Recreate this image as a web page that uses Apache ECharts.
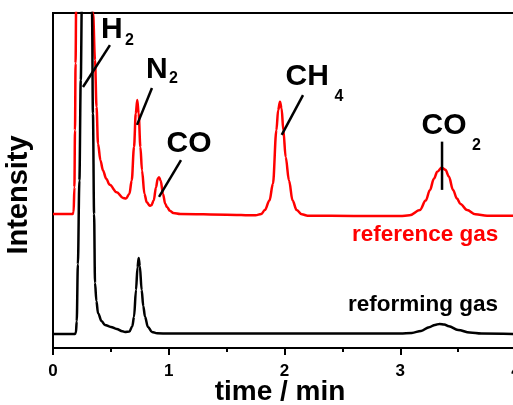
<!DOCTYPE html>
<html>
<head>
<meta charset="utf-8">
<script src="https://cdn.jsdelivr.net/npm/echarts@6/dist/echarts.min.js"></script>
<style>html,body{margin:0;padding:0;background:#fff;}#c{width:513px;height:405px;}</style>
</head>
<body>
<div id="c"></div>
<script>
// reference gas chromatogram (time in min, intensity in a.u.)
const refTime = [0, 0.17, 0.178, 0.185, 0.19, 0.195, 0.2, 0.21, 0.27, 0.33, 0.346, 0.363, 0.376, 0.389, 0.41, 0.432, 0.46, 0.49, 0.55, 0.605, 0.63, 0.66, 0.68, 0.70, 0.715, 0.728, 0.74, 0.755, 0.769, 0.79, 0.81, 0.835, 0.85, 0.87, 0.89, 0.905, 0.916, 0.93, 0.95, 0.97, 0.985, 1.01, 1.04, 1.1, 1.5, 1.75, 1.80, 1.83, 1.87, 1.90, 1.93, 1.945, 1.961, 1.975, 1.99, 2.01, 2.039, 2.07, 2.105, 2.15, 2.2, 2.6, 3.0, 3.08, 3.17, 3.22, 3.257, 3.29, 3.32, 3.358, 3.39, 3.42, 3.456, 3.49, 3.52, 3.577, 3.65, 3.75, 4.0];
const refIntensity = [40, 40, 40.5, 48, 65, 85, 102, 130, 180, 120, 100, 86, 72, 61, 56, 53, 50.5, 48.7, 46.5, 44.8, 44.6, 46, 50, 60, 70, 74, 70, 60, 53, 46, 43.5, 42.5, 42.6, 44, 48, 50.5, 51, 50, 46, 43, 42.1, 41, 40.3, 40, 39.8, 39.6, 40, 41.2, 44, 49, 65, 71, 73.5, 71.5, 65, 57, 50, 44, 41.2, 39.9, 39.5, 39.4, 39.4, 39.6, 41.2, 44, 47.2, 50.5, 52.6, 53.9, 53.2, 51.2, 47.2, 44.6, 43, 41.2, 39.9, 39.5, 39.5];
// reforming gas chromatogram
const refmTime = [0, 0.19, 0.198, 0.205, 0.215, 0.228, 0.24, 0.25, 0.29, 0.33, 0.337, 0.345, 0.355, 0.363, 0.375, 0.389, 0.42, 0.449, 0.5, 0.55, 0.6, 0.622, 0.66, 0.685, 0.70, 0.717, 0.73, 0.74, 0.75, 0.766, 0.78, 0.795, 0.82, 0.855, 0.9, 1.0, 2.0, 3.0, 3.1, 3.18, 3.25, 3.30, 3.34, 3.38, 3.42, 3.5, 3.6, 3.7, 4.0];
const refmIntensity = [4.2, 4.2, 4.6, 8, 25, 50, 80, 105, 170, 110, 100, 70, 40, 19.4, 14, 10.4, 8, 6.9, 6.3, 5.7, 5.0, 4.8, 4.9, 6.5, 9.3, 17.3, 24, 26.9, 24.5, 17.3, 12.5, 9.3, 6.3, 4.8, 4.4, 4.3, 4.3, 4.3, 4.5, 5.1, 6.2, 6.9, 7.2, 7.0, 6.5, 5.4, 4.6, 4.3, 4.2];
const xTicks = [0, 1, 2, 3, 4];
const seriesNames = ['reference gas', 'reforming gas'];

const zip = (a, b) => a.map((v, i) => [v, b[i]]);
const FONT = '"Liberation Sans", Arial, sans-serif';

const chart = echarts.init(document.getElementById('c'), null, {renderer: 'canvas'});
chart.setOption({
  animation: false,
  backgroundColor: '#fff',
  grid: {left: 53, top: 13, right: -3, bottom: 57, outerBoundsMode: 'none', containLabel: false,
         show: true, borderColor: '#000', borderWidth: 2, backgroundColor: 'transparent'},
  xAxis: {
    type: 'value', min: xTicks[0], max: xTicks[xTicks.length - 1], interval: 1,
    axisLine: {lineStyle: {color: '#000', width: 2}},
    axisTick: {show: true, length: 7, lineStyle: {color: '#000', width: 2}},
    minorTick: {show: true, splitNumber: 2, length: 4, lineStyle: {color: '#000', width: 2}},
    splitLine: {show: false},
    axisLabel: {color: '#000', fontWeight: 'bold', fontSize: 17, fontFamily: FONT, margin: 15, showMaxLabel: true, hideOverlap: false}
  },
  yAxis: {
    type: 'value', min: 0, max: 100,
    axisLine: {show: true, lineStyle: {color: '#000', width: 2}},
    axisTick: {show: false}, axisLabel: {show: false}, splitLine: {show: false}
  },
  series: [
    {name: seriesNames[0], type: 'line', data: zip(refTime, refIntensity), symbol: 'none', smooth: 0.35, smoothMonotone: 'x',
     lineStyle: {color: '#ff0000', width: 2.5}, clip: true},
    {name: seriesNames[1], type: 'line', data: zip(refmTime, refmIntensity), symbol: 'none', smooth: 0.35, smoothMonotone: 'x',
     lineStyle: {color: '#000', width: 2.5}, clip: true}
  ]
});

const P = (t, v) => chart.convertToPixel({gridIndex: 0}, [t, v]);
const txt = (t, v, text, size, color, align) => {
  const p = P(t, v);
  return {type: 'text', x: p[0], y: p[1], z: 100,
    style: {text, fill: color || '#000', font: 'bold ' + size + 'px ' + FONT, textAlign: align || 'left', textVerticalAlign: 'middle', verticalAlign: 'middle'}};
};
const seg = (a, b) => {
  const p1 = P(a[0], a[1]), p2 = P(b[0], b[1]);
  return {type: 'line', z: 100, shape: {x1: p1[0], y1: p1[1], x2: p2[0], y2: p2[1]}, style: {stroke: '#000', lineWidth: 2.5}};
};

chart.setOption({
  graphic: [
    txt(0.415, 95.07, 'H', 30), txt(0.622, 91.79, '2', 16),
    txt(0.803, 83.13, 'N', 30), txt(1.002, 80.30, '2', 16),
    txt(0.981, 60.90, 'CO', 30),
    txt(2.009, 81.04, 'CH', 30), txt(2.432, 75.07, '4', 16),
    txt(3.184, 66.27, 'CO', 30), txt(3.620, 60.30, '2', 16),
    txt(2.583, 33.91, seriesNames[0], 22.5, '#ff0000'),
    txt(2.549, 13.01, seriesNames[1], 22.5, '#000'),
    seg([0.492, 90.4], [0.259, 77.9]),
    seg([0.855, 77.6], [0.726, 66.6]),
    seg([1.106, 56.1], [0.916, 45.1]),
    seg([2.16, 75.5], [1.976, 63.6]),
    seg([3.361, 61.6], [3.361, 47.2]),
    {type: 'text', x: 19, y: 195, rotation: Math.PI / 2, z: 100,
     style: {text: 'Intensity', fill: '#000', font: 'bold 29px ' + FONT, textAlign: 'center', textVerticalAlign: 'middle', verticalAlign: 'middle'}},
    {type: 'text', x: 280, y: 392, z: 100,
     style: {text: 'time / min', fill: '#000', font: 'bold 28px ' + FONT, textAlign: 'center', textVerticalAlign: 'middle', verticalAlign: 'middle'}}
  ]
});
</script>
</body>
</html>
